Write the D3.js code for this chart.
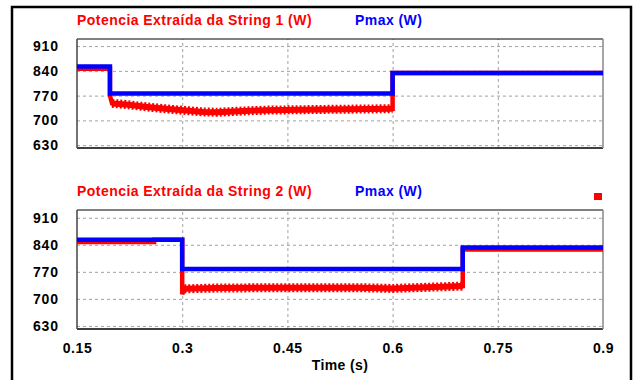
<!DOCTYPE html>
<html>
<head>
<meta charset="utf-8">
<script src="https://cdn.jsdelivr.net/npm/d3@7"></script>
<style>
  body { margin: 0; background: #fff; }
  svg { display: block; font-family: "Liberation Sans", Arial, sans-serif; }
  .tick text { font-weight: bold; fill: #000; }
</style>
</head>
<body>
<svg width="639" height="380"></svg>
<script>
// axis ticks
var timeTicks = [0.15, 0.3, 0.45, 0.6, 0.75, 0.9];
var powerTicks = [630, 700, 770, 840, 910];

// String 1 panel
var pmax1Time = [0.15, 0.197, 0.6, 0.9];
var pmax1Val  = [852, 776, 834, 834];
var str1Time = [0.15, 0.197, 0.197, 0.2, 0.22, 0.25, 0.28, 0.31, 0.33, 0.35, 0.38, 0.42, 0.5, 0.6, 0.6, 0.9];
var str1Val  = [846, 846, 770, 748, 745, 738, 732, 727, 724, 723, 726, 729, 731, 733, 834, 834];
var str1Ripple = [3, 13];   // first/last point index of the oscillating stretch

// String 2 panel
var pmax2Time = [0.15, 0.3, 0.7, 0.9];
var pmax2Val  = [853, 777, 833, 833];
var str2Time = [0.15, 0.26, 0.26, 0.3, 0.3, 0.303, 0.35, 0.45, 0.55, 0.6, 0.65, 0.7, 0.7, 0.9];
var str2Val  = [847, 847, 853, 853, 712, 726, 728, 729, 729, 727, 730, 733, 828, 828];
var str2Ripple = [5, 11];

var svg = d3.select("svg");
var left = 77, right = 603;

// outer frame
svg.append("rect")
    .attr("x", 12).attr("y", 7).attr("width", 619).attr("height", 380)
    .attr("fill", "none").attr("stroke", "#000").attr("stroke-width", 2.5);

var x = d3.scaleLinear().domain([0.15, 0.9]).range([left, right]);

function zip(ts, vs) { return ts.map(function(t, i) { return [t, vs[i]]; }); }

function panel(top, bottom, title, pmaxPts, strPts, rip, showX) {
  var y = d3.scaleLinear().domain([622, 930]).range([bottom, top]);
  var g = svg.append("g");

  // grid
  g.append("g")
      .attr("transform", "translate(0," + bottom + ")")
      .call(d3.axisBottom(x).tickValues(timeTicks.slice(1, -1)).tickSize(-(bottom - top)).tickFormat(""))
      .call(function(a) {
        a.select(".domain").remove();
        a.selectAll("line").attr("stroke", "#a0a0a0").attr("stroke-dasharray", "3,3");
      });
  g.append("g")
      .attr("transform", "translate(" + left + ",0)")
      .call(d3.axisLeft(y).tickValues(powerTicks).tickSize(-(right - left)))
      .call(function(a) {
        a.select(".domain").remove();
        a.selectAll("line").attr("stroke", "#a0a0a0").attr("stroke-dasharray", "3,3");
        a.selectAll("text").attr("font-size", 14).attr("letter-spacing", 0.9).attr("x", -18);
      });

  // plot frame
  g.append("line").attr("x1", left).attr("x2", right).attr("y1", top).attr("y2", top).attr("stroke", "#000");
  g.append("line").attr("x1", left).attr("x2", right).attr("y1", bottom).attr("y2", bottom).attr("stroke", "#000").attr("stroke-width", 1.5);
  g.append("line").attr("x1", left).attr("x2", left).attr("y1", top).attr("y2", bottom).attr("stroke", "#444").attr("stroke-width", 1.5);
  g.append("line").attr("x1", right).attr("x2", right).attr("y1", top).attr("y2", bottom).attr("stroke", "#888").attr("stroke-width", 1.5);

  var line = d3.line().x(function(d) { return x(d[0]); }).y(function(d) { return y(d[1]); });

  // extracted power (red)
  g.append("path").attr("d", line(strPts)).attr("fill", "none")
      .attr("stroke", "#ff0000").attr("stroke-width", 4.5);
  var ripple = strPts.slice(rip[0], rip[1] + 1);
  g.append("path").attr("d", line(ripple)).attr("fill", "none")
      .attr("stroke", "#ff0000").attr("stroke-width", 6);
  g.append("path").attr("d", line(ripple)).attr("fill", "none")
      .attr("stroke", "#ff0000").attr("stroke-width", 9).attr("stroke-dasharray", "2,2");

  // Pmax (blue)
  g.append("path").attr("d", d3.line().curve(d3.curveStepAfter)
        .x(function(d) { return x(d[0]); }).y(function(d) { return y(d[1]); })(pmaxPts))
      .attr("fill", "none").attr("stroke", "#0000ff").attr("stroke-width", 4.5);

  // titles
  g.append("text").attr("x", left).attr("y", top - 14).text(title)
      .attr("font-size", 14).attr("letter-spacing", 0.45).attr("font-weight", "bold").attr("fill", "#ff0000");
  g.append("text").attr("x", 355).attr("y", top - 14).text("Pmax (W)")
      .attr("font-size", 14).attr("letter-spacing", 0.45).attr("font-weight", "bold").attr("fill", "#0000ff");

  if (showX) {
    g.append("g")
        .attr("transform", "translate(0," + bottom + ")")
        .call(d3.axisBottom(x).tickValues(timeTicks).tickSize(0).tickPadding(14).tickFormat(d3.format("")))
        .call(function(a) {
          a.select(".domain").remove();
          a.selectAll("text").attr("font-size", 14).attr("letter-spacing", 0.6);
        });
    g.append("text").attr("x", (left + right) / 2).attr("y", 370).attr("text-anchor", "middle")
        .text("Time (s)").attr("font-size", 14).attr("letter-spacing", 0.4).attr("font-weight", "bold");
    g.append("rect").attr("x", 594).attr("y", 193).attr("width", 8).attr("height", 7).attr("fill", "#ff0000");
  }
}

panel(39, 148, "Potencia Extraída da String 1 (W)", zip(pmax1Time, pmax1Val), zip(str1Time, str1Val), str1Ripple, false);
panel(210, 329, "Potencia Extraída da String 2 (W)", zip(pmax2Time, pmax2Val), zip(str2Time, str2Val), str2Ripple, true);
</script>
</body>
</html>
